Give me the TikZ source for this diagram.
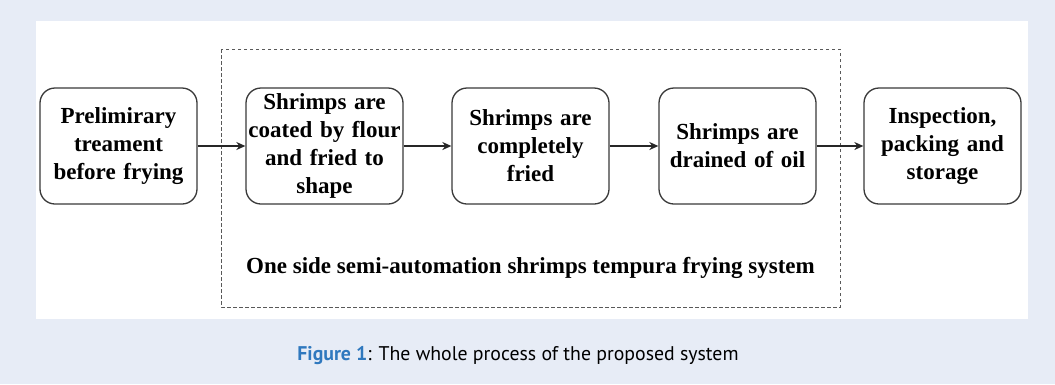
\documentclass[tikz,border=0pt]{standalone}
\usepackage{fontspec}
\setmainfont{Liberation Serif}
\newfontfamily\capfont{PT Sans}
\usetikzlibrary{arrows.meta}
\definecolor{bgblue}{HTML}{E7ECF6}
\definecolor{capblue}{HTML}{2F78BE}
\definecolor{boxline}{HTML}{3A3A3A}
\tikzset{
  stepbox/.style={draw=boxline, line width=1.3pt, rounded corners=15pt, fill=white,
    minimum width=155pt, minimum height=116pt, align=center, inner sep=2pt,
    font=\fontsize{23}{28}\selectfont\bfseries, text width=153pt},
  flow/.style={draw=black!85, line width=1.3pt, -{Stealth[length=9pt,width=8pt]}},
}
\begin{document}
\begin{tikzpicture}[x=1pt,y=-1pt]
\useasboundingbox (0,0) rectangle (1055,384);
\fill[bgblue] (0,0) rectangle (1055,384);
\fill[white] (36,21) rectangle (1028,319);
\draw[gray!70!black, line width=1pt, dash pattern=on 3.5pt off 2.5pt] (221,49) rectangle (840,307);
\node[stepbox] (a) at (118.5,146) {Prelimirary\\treament\\before frying};
\node[stepbox] (b) at (324.5,146) {Shrimps are\\coated by flour\\and fried to\\shape};
\node[stepbox] (c) at (530.5,146) {Shrimps are\\completely\\fried};
\node[stepbox] (d) at (737.5,146) {Shrimps are\\drained of oil};
\node[stepbox] (e) at (942.5,146) {Inspection,\\packing and\\storage};
\draw[flow] (a) -- (b);
\draw[flow] (b) -- (c);
\draw[flow] (c) -- (d);
\draw[flow] (d) -- (e);
\node[font=\fontsize{23}{28}\selectfont\bfseries] (sys) at (530.5,268) {One side semi-automation shrimps tempura frying system};
\node[font=\capfont\fontsize{19.8}{24}\selectfont] (cap) at (518,356) {\textcolor{capblue}{\bfseries Figure 1}: The whole process of the proposed system};
\end{tikzpicture}
\end{document}
